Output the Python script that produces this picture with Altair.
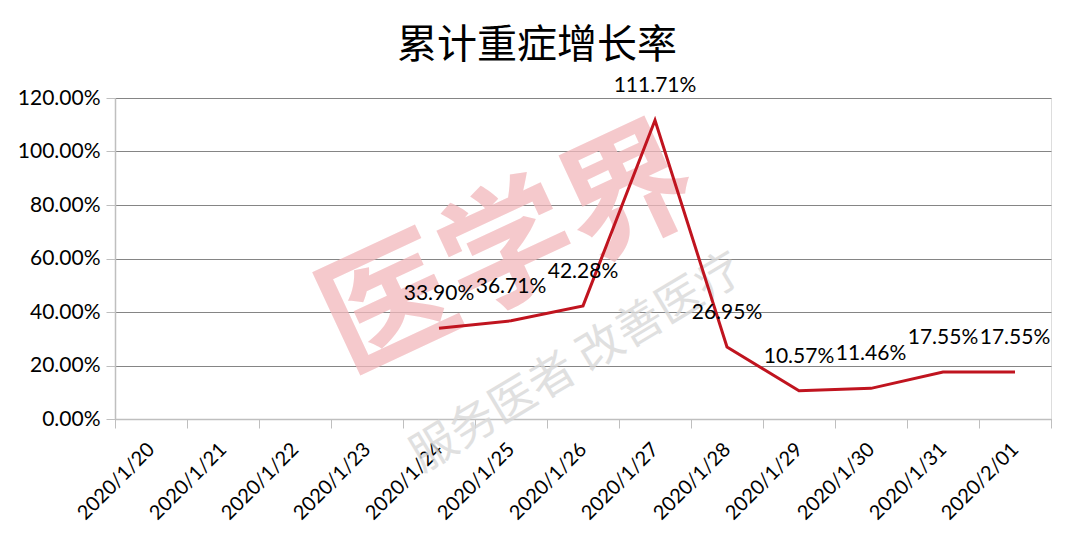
import altair as alt
import pandas as pd

dates = ["2020/1/20", "2020/1/21", "2020/1/22", "2020/1/23", "2020/1/24", "2020/1/25",
         "2020/1/26", "2020/1/27", "2020/1/28", "2020/1/29", "2020/1/30", "2020/1/31", "2020/2/01"]
rates = [None, None, None, None, 0.3390, 0.3671, 0.4228, 1.1171, 0.2695, 0.1057, 0.1146, 0.1755, 0.1755]

title_text = "累计重症增长率"
wm_main = "医学界"
wm_sub = "服务医者 改善医疗"

df = pd.DataFrame({"date": dates, "rate": rates})
df_valid = df.dropna()

FONT = "Lato"
W, H = 936, 321

x_enc = alt.X("date:N", sort=dates, scale=alt.Scale(domain=dates, paddingInner=0, paddingOuter=0),
              axis=alt.Axis(title=None, labelAngle=-45, labelAlign="right", labelBaseline="middle",
                            labelFontSize=20, labelFont=FONT, labelColor="#000000", labelPadding=18,
                            tickBand="extent", tickSize=9, tickColor="#bfbfbf", domainColor="#bfbfbf",
                            domainWidth=1.5, grid=False, labelOverlap=False))
y_enc = alt.Y("rate:Q", scale=alt.Scale(domain=[0, 1.2], nice=False),
              axis=alt.Axis(title=None, format=".2%", values=[0, 0.2, 0.4, 0.6, 0.8, 1.0, 1.2],
                            labelFontSize=21, labelFont=FONT, labelColor="#000000", labelPadding=6,
                            tickSize=9, tickColor="#bfbfbf", domainColor="#bfbfbf", domainWidth=1.5,
                            gridColor="#858585", gridWidth=1))

wm = pd.DataFrame({"t": [wm_main]})
wm2 = pd.DataFrame({"t": [wm_sub]})

watermark = alt.Chart(wm).mark_text(fontSize=132, font="Noto Sans CJK SC", fontWeight="bold",
                                    color="#f2b8bc", opacity=0.75, angle=335).encode(
    text="t:N", x=alt.value(395), y=alt.value(155))
watermark2 = alt.Chart(wm2).mark_text(fontSize=46, font="Noto Sans CJK SC",
                                      color="#d9d9d9", opacity=0.8, angle=329).encode(
    text="t:N", x=alt.value(462), y=alt.value(265))

line = alt.Chart(df_valid).mark_line(color="#c0141f", strokeWidth=3).encode(x=x_enc, y=y_enc)
labels = alt.Chart(df_valid).mark_text(fontSize=21, font=FONT, color="#000000", dy=-34,
                                       baseline="middle", align="center").encode(
    x=alt.X("date:N", sort=dates), y="rate:Q", text=alt.Text("rate:Q", format=".2%"))

chart = alt.layer(watermark, watermark2, line, labels).properties(
    width=W, height=H,
    title=alt.TitleParams(title_text, fontSize=40, font="Noto Sans CJK SC", fontWeight="normal",
                          color="#000000", anchor="middle", dx=-46, offset=9),
    autosize=alt.AutoSizeParams(type="none"),
    padding={"left": 107, "top": 90, "right": 17, "bottom": 123},
).configure_view(stroke=None).configure(background="white")

chart.save("out.html", embed_options={"renderer": "svg", "actions": False})
